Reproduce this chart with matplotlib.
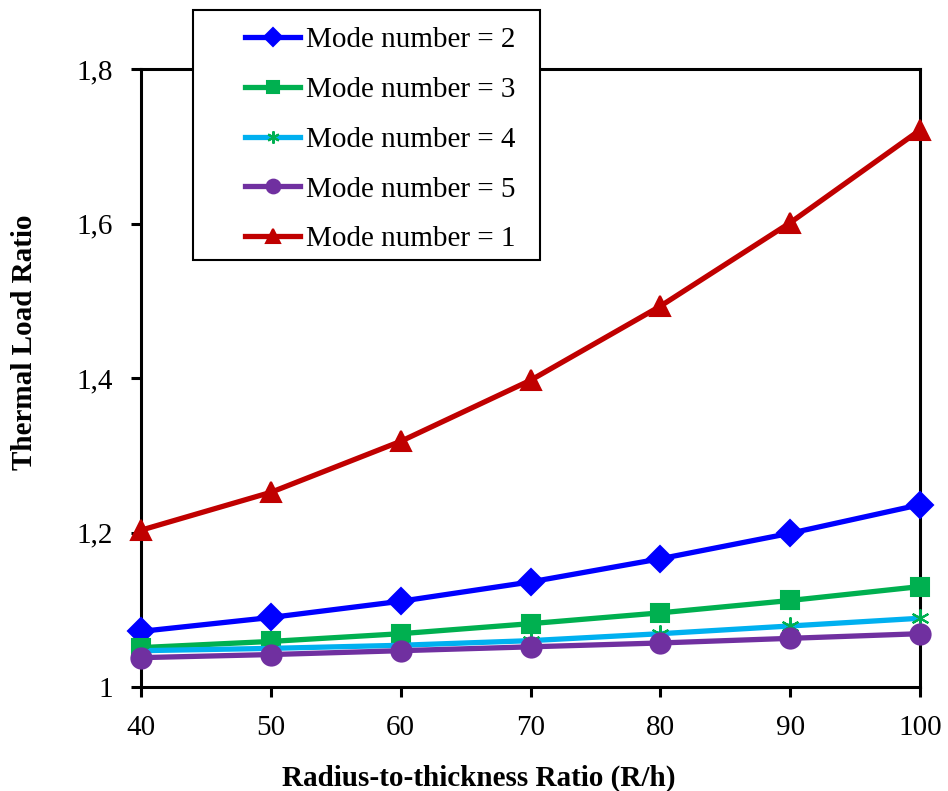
import matplotlib
matplotlib.use("Agg")
import matplotlib.pyplot as plt
from matplotlib.patches import Rectangle
from matplotlib.ticker import FuncFormatter

plt.rcParams["font.family"] = ["Liberation Serif", "DejaVu Serif"]

# radius-to-thickness ratio
rh = [40, 50, 60, 70, 80, 90, 100]

# thermal load ratio per mode number
mode1 = [1.203, 1.252, 1.318, 1.397, 1.493, 1.601, 1.721]
mode2 = [1.072, 1.090, 1.111, 1.136, 1.166, 1.199, 1.236]
mode3 = [1.051, 1.059, 1.069, 1.082, 1.096, 1.112, 1.130]
mode4 = [1.047, 1.050, 1.054, 1.060, 1.069, 1.079, 1.089]
mode5 = [1.038, 1.042, 1.047, 1.052, 1.057, 1.063, 1.069]

series = [
    ("Mode number = 2", mode2, "#0000FF", "D", 13, "#0000FF"),
    ("Mode number = 3", mode3, "#00B050", "s", 12.5, "#00B050"),
    ("Mode number = 4", mode4, "#00B0F0", (6, 2, 0), 13, "#00B050"),
    ("Mode number = 5", mode5, "#7030A0", "o", 14.5, "#7030A0"),
    ("Mode number = 1", mode1, "#C00000", "^", 14.5, "#C00000"),
]

W, H = 948, 791
fig = plt.figure(figsize=(W / 100, H / 100), dpi=100)
ax = fig.add_axes([141 / W, 1 - 687 / H, 779 / W, 618 / H])

for label, vals, color, marker, ms, mcolor in series:
    ax.plot(rh, vals, color=color, linewidth=3.8, marker=marker, markersize=ms,
            markerfacecolor=mcolor, markeredgecolor=mcolor, markeredgewidth=1.5,
            label=label, clip_on=False, zorder=3)

ax.set_xlim(40, 100)
ax.set_ylim(1.0, 1.8)
ax.set_xticks(rh)
ax.set_yticks([1.0, 1.2, 1.4, 1.6, 1.8])
ax.yaxis.set_major_formatter(FuncFormatter(
    lambda v, p: "1" if abs(v - 1) < 1e-9 else f"{v:.1f}".replace(".", ",")))
ax.tick_params(labelsize=21, width=2.2, length=7, direction="out", pad=13)

for sp in ax.spines.values():
    sp.set_linewidth(2.2)

ax.set_xlabel("Radius-to-thickness Ratio (R/h)", fontsize=21, fontweight="bold")
ax.xaxis.set_label_coords((479 - 141) / 779, -0.125)
ax.set_ylabel("Thermal Load Ratio", fontsize=21, fontweight="bold")
ax.yaxis.set_label_coords(-0.132, 0.558)

# legend frame drawn separately so the padding can match the original
ax.add_patch(Rectangle((193 / W, 1 - 260 / H), 347 / W, 250 / H,
                       transform=fig.transFigure, facecolor="white",
                       edgecolor="black", linewidth=1.5, zorder=4, clip_on=False))
leg = ax.legend(loc="upper left", bbox_to_anchor=(245 / W, 1 - 27 / H),
                bbox_transform=fig.transFigure, fontsize=21, frameon=False,
                handlelength=1.9, handletextpad=0.2, labelspacing=0.8,
                borderpad=0, borderaxespad=0, markerscale=0.68)
leg.set_zorder(5)

fig.savefig("out.png", dpi=100)
